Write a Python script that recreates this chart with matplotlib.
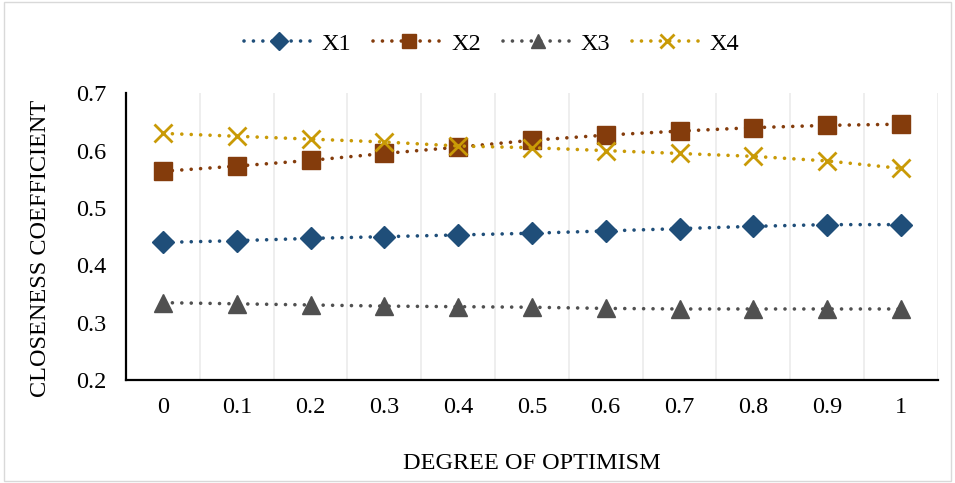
import matplotlib
matplotlib.use("Agg")
import matplotlib.pyplot as plt
from matplotlib.patches import Rectangle

plt.rcParams['font.family'] = ['Liberation Serif', 'DejaVu Serif']

categories = ["0", "0.1", "0.2", "0.3", "0.4", "0.5", "0.6", "0.7", "0.8", "0.9", "1"]
x1 = [0.440, 0.443, 0.447, 0.450, 0.453, 0.456, 0.460, 0.464, 0.468, 0.471, 0.471]
x2 = [0.564, 0.573, 0.583, 0.595, 0.606, 0.618, 0.627, 0.634, 0.640, 0.644, 0.646]
x3 = [0.335, 0.333, 0.331, 0.329, 0.328, 0.327, 0.325, 0.324, 0.324, 0.324, 0.324]
x4 = [0.630, 0.625, 0.620, 0.615, 0.608, 0.605, 0.600, 0.595, 0.590, 0.582, 0.569]
series_names = ["X1", "X2", "X3", "X4"]
yticks = [0.2, 0.3, 0.4, 0.5, 0.6, 0.7]

colors = ["#1F4E79", "#843C0C", "#505050", "#C99A06"]
markers = ["D", "s", "^", "x"]
msizes = [11, 13, 13, 13]

FS = 17.5

fig = plt.figure(figsize=(9.55, 4.83), dpi=100)
ax = fig.add_axes([0.132, 0.213, 0.850, 0.594])

xs = list(range(len(categories)))
for vals, name, c, m, ms in zip([x1, x2, x3, x4], series_names, colors, markers, msizes):
    ax.plot(xs, vals, color=c, linewidth=2.6, linestyle=(0, (0.01, 2.6)),
            dash_capstyle='round', marker=m, markersize=ms,
            markeredgewidth=2 if m == 'x' else 1, markeredgecolor=c,
            markerfacecolor=c, label=name)

ax.set_xlim(-0.5, len(categories) - 0.5)
ax.set_ylim(0.2, 0.7)
ax.set_yticks(yticks)
ax.set_yticklabels([f"{v:.1f}" for v in yticks], fontsize=FS)
ax.set_xticks(xs)
ax.set_xticklabels(categories, fontsize=FS)
ax.tick_params(axis='x', length=0, pad=12)
ax.tick_params(axis='y', length=0, pad=14)

for k in range(1, len(categories) + 1):
    ax.axvline(k - 0.5, color="#EBEBEB", linewidth=1.2, zorder=0)

for s in ['top', 'right']:
    ax.spines[s].set_visible(False)
for s in ['left', 'bottom']:
    ax.spines[s].set_color('black')
    ax.spines[s].set_linewidth(1.6)

ax.set_xlabel("DEGREE OF OPTIMISM", fontsize=FS, labelpad=25)
ax.set_ylabel("CLOSENESS COEFFICIENT", fontsize=FS, va='center')
ax.yaxis.set_label_coords(-0.106, 0.46)

ax.legend(loc='center', bbox_to_anchor=(0.515, 0.909), bbox_transform=fig.transFigure,
          ncol=4, frameon=False, fontsize=FS, handlelength=2.9, columnspacing=0.9,
          handletextpad=0.3, markerscale=0.8)

fig.patches.append(Rectangle((0.004, 0.004), 0.992, 0.992, transform=fig.transFigure,
                             fill=False, edgecolor="#D9D9D9", linewidth=1))

fig.savefig("out.png", dpi=100)
